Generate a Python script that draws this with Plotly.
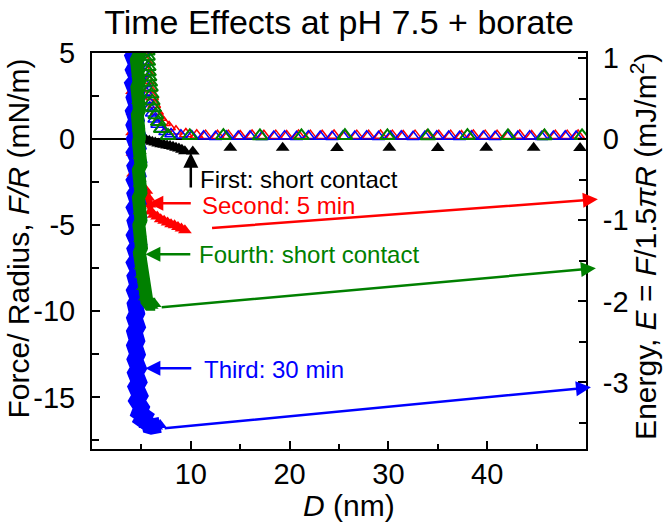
import math
import plotly.graph_objects as go

# ---------------- data (D in nm, F/R in mN/m) ----------------
# First: short contact (black, filled)
black_D = [4.4, 4.6, 4.5, 4.7, 5.0, 5.5, 5.8, 6.1, 6.4, 6.7, 7.0, 7.3, 7.6, 7.9, 8.2, 8.5, 8.8, 9.1, 9.4,
           10.2, 14.0, 19.3, 24.8, 30.1, 35.0, 39.9, 44.7, 49.4]
black_F = [6.5, 4.0, 2.0, 0.8, 0.2, -0.05, -0.1, -0.15, -0.2, -0.25, -0.3, -0.33, -0.37, -0.4, -0.45, -0.5, -0.55,
           -0.62, -0.7, -0.72, -0.5, -0.5, -0.52, -0.5, -0.52, -0.5, -0.5, -0.52]

# Second: 5 min (red) approach (open) and separation (filled)
red_app_D = [5.3, 5.33, 5.36, 5.4, 5.45, 5.52, 5.6, 5.72, 5.88, 6.08, 6.3, 6.58, 6.9, 7.3, 7.8, 8.5, 9.5, 10.6,
             11.5, 12.7, 13.8, 15.0, 16.2, 17.4, 18.6, 19.7, 20.9, 22.1, 23.3, 24.5, 25.6, 26.8, 28.0, 29.2, 30.4,
             31.5, 32.7, 33.9, 35.1, 36.3, 37.4, 38.6, 39.8, 41.0, 42.2, 43.3, 44.5, 45.7, 46.9, 48.1, 49.2]
red_app_F = [7.5, 6.9, 6.3, 5.7, 5.1, 4.5, 3.9, 3.4, 2.9, 2.45, 2.0, 1.6, 1.25, 0.95, 0.7, 0.45, 0.3, 0.22,
             0.2, 0.19, 0.2, 0.18, 0.21, 0.19, 0.2, 0.18, 0.21, 0.2, 0.19, 0.21, 0.18, 0.2, 0.19, 0.21, 0.2,
             0.18, 0.2, 0.21, 0.19, 0.2, 0.18, 0.21, 0.2, 0.19, 0.2, 0.21, 0.18, 0.2, 0.19, 0.2, 0.21]
red_ret_D = [4.0, 4.35, 4.05, 4.4, 4.0, 4.35, 4.1, 4.4, 4.05, 4.35, 4.1, 4.4, 4.05, 4.35, 4.1, 4.4, 4.15, 4.5,
             5.0, 5.5, 5.7, 5.8, 5.95, 6.25, 6.6, 6.95, 7.3, 7.65, 8.0, 8.35, 8.7, 9.05, 9.4]
red_ret_F = [7.6, 7.0, 6.4, 5.8, 5.2, 4.6, 4.0, 3.4, 2.8, 2.2, 1.6, 1.0, 0.4, -0.2, -0.8, -1.4, -2.0, -2.5,
             -2.8, -3.0, -3.4, -3.8, -4.2, -4.4, -4.5, -4.65, -4.75, -4.85, -4.95, -5.0, -5.1, -5.2, -5.3]

# Third: 30 min (blue) approach (open) and separation (filled)
blue_app_D = [5.1, 5.12, 5.15, 5.18, 5.2, 5.24, 5.28, 5.33, 5.4, 5.5, 5.65, 5.85, 6.05, 6.3, 6.6, 6.95, 7.4,
              8.0, 9.0, 10.1, 11.3, 12.5, 13.6, 14.8, 16.0, 17.2, 18.4, 19.5, 20.7, 21.9, 23.1, 24.3, 25.4,
              26.6, 27.8, 29.0, 30.2, 31.3, 32.5, 33.7, 34.9, 36.1, 37.2, 38.4, 39.6, 40.8, 42.0, 43.1, 44.3,
              45.5, 46.7, 47.9, 49.0]
blue_app_F = [8.0, 7.4, 6.8, 6.2, 5.6, 5.0, 4.4, 3.8, 3.2, 2.7, 2.25, 1.85, 1.5, 1.15, 0.85, 0.6, 0.42,
              0.3, 0.22, 0.18, 0.16, 0.14, 0.17, 0.15, 0.16, 0.13, 0.15, 0.17, 0.14, 0.16, 0.15, 0.14, 0.16,
              0.15, 0.17, 0.14, 0.15, 0.16, 0.14, 0.15, 0.17, 0.15, 0.14, 0.16, 0.15, 0.14, 0.16, 0.15, 0.17,
              0.14, 0.15, 0.16, 0.15]
blue_ret_D = [4.15, 4.5, 4.2, 4.55, 4.1, 4.5, 4.25, 4.55, 4.15, 4.5, 4.2, 4.6, 4.15, 4.5, 4.25, 4.55, 4.2,
              4.5, 4.25, 4.6, 4.3,
              4.65, 4.3, 4.7, 4.35, 4.65, 4.3, 4.7, 4.35, 4.65, 4.3, 4.7, 4.35, 4.6, 4.3, 4.7, 4.35, 4.65,
              4.3, 4.7, 4.35, 4.6, 4.3, 4.65, 4.35,
              4.55, 4.3, 4.6, 4.3, 4.55, 4.3, 4.6, 4.35,
              4.7, 4.4, 4.75, 4.45, 4.85, 4.55,
              5.0, 4.8, 5.3, 5.1, 5.6, 5.4, 6.0, 6.5, 6.9]
blue_ret_F = [7.9, 7.6, 7.1, 6.8, 6.3, 6.0, 5.6, 5.1, 4.8, 4.3, 4.0, 3.5, 3.2, 2.7, 2.4, 1.9, 1.6, 1.1, 0.8,
              0.3, 0.0,
              -0.5, -0.8, -1.3, -1.6, -2.1, -2.4, -2.9, -3.2, -3.7, -4.0, -4.5, -4.8, -5.3, -5.6, -6.1, -6.4,
              -6.9, -7.2, -7.7, -8.0, -8.5, -8.8, -9.3, -9.6,
              -10.1, -10.4, -10.9, -11.2, -11.7, -12.0, -12.5, -12.8,
              -13.3, -13.6, -14.1, -14.4, -14.9, -15.2,
              -15.6, -15.9, -16.1, -16.3, -16.5, -16.6, -16.7, -16.7, -16.6]

# Fourth: short contact (green) separation (filled) and approach (open)
green_ret_D = [4.5, 4.7, 4.55, 4.75, 4.5, 4.7, 4.55, 4.75, 4.5, 4.7, 4.6, 4.75, 4.55, 4.7, 4.6, 4.8, 4.6, 4.75,
               4.65, 4.8,
               4.7, 4.9, 4.75, 4.95, 4.7, 4.9, 4.75, 4.95, 4.7, 4.9, 4.75, 4.95, 4.75, 4.9, 4.8, 5.0, 4.8,
               4.95, 4.85,
               4.95, 5.2, 5.1, 5.35, 5.3, 5.55, 5.8, 6.1, 6.4]
green_ret_F = [7.8, 7.3, 7.0, 6.5, 6.2, 5.7, 5.4, 4.9, 4.6, 4.1, 3.8, 3.3, 3.0, 2.5, 2.2, 1.7, 1.4, 0.9, 0.6,
               0.1,
               -0.2, -0.7, -1.0, -1.5, -1.8, -2.3, -2.6, -3.1, -3.4, -3.9, -4.2, -4.7, -5.0, -5.5, -5.8, -6.3,
               -6.6, -7.1, -7.4,
               -7.9, -8.2, -8.6, -8.9, -9.2, -9.4, -9.6, -9.7, -9.6]
green_app_D = [5.45, 5.47, 5.5, 5.5, 5.52, 5.55, 5.55, 5.58, 5.6, 5.62, 5.65, 5.7, 5.72, 5.78, 5.85, 5.92,
               6.0, 6.1, 6.25, 6.45, 6.7, 7.0,
               7.7, 9.9, 13.3, 17.0, 21.2, 25.6, 29.9, 34.0, 38.0, 42.1, 45.8, 49.6]
green_app_F = [7.5, 7.2, 6.9, 6.6, 6.3, 6.0, 5.7, 5.4, 5.1, 4.8, 4.5, 4.2, 3.9, 3.6, 3.3, 3.0, 2.6, 2.2, 1.8,
               1.4, 1.0, 0.6,
               0.2, 0.19, 0.2, 0.18, 0.19, 0.2, 0.19, 0.18, 0.2, 0.19, 0.18, 0.19]

# axis ticks
x_ticks = [10, 20, 30, 40]
x_minor = [5, 15, 25, 35, 45]
yl_ticks = [5, 0, -5, -10, -15]
yl_text = ["5", "0", "-5", "-10", "-15"]
yl_minor = [2.5, -2.5, -7.5, -12.5, -17.5]
yr_ticks = [1, 0, -1, -2, -3]
yr_text = ["1", "0", "-1", "-2", "-3"]
yr_minor = [0.5, -0.5, -1.5, -2.5, -3.5]
F_range = [-18, 5]
D_range = [0, 50]
E_factor = 1.5 * math.pi  # E = F / (1.5 pi R)

# labels: (text, color, text D, text F, arrow tail D, tail F, tip D, tip F)
labels = [
    ("First: short contact", "black", 10.75, -2.35, 10.0, -2.9, 10.0, -0.8),
    ("Second: 5 min", "red", 10.95, -3.85, 10.15, -3.72, 5.7, -3.72),
    ("Fourth: short contact", "green", 10.65, -6.72, 10.1, -6.69, 5.4, -6.69),
    ("Third: 30 min", "blue", 11.15, -13.4, 10.2, -13.31, 5.4, -13.31),
]
# long arrows from the adhesion minima to the energy axis: (color, tail D, tail F, tip D, tip F)
long_arrows = [
    ("red", 12.0, -5.17, 51.2, -3.49),
    ("green", 6.9, -9.77, 51.0, -7.5),
    ("blue", 7.2, -16.8, 50.5, -14.42),
]

FONT = "Liberation Sans, Arial, sans-serif"

fig = go.Figure()


def add(D, F, color, size, open_, lw, line_w=0):
    fig.add_trace(go.Scatter(
        x=D, y=F, mode="lines+markers" if line_w else "markers", showlegend=False, hoverinfo="skip",
        line=dict(color=color, width=line_w) if line_w else None,
        marker=dict(symbol="triangle-up-open" if open_ else "triangle-up", size=size, color=color,
                    line=dict(width=lw, color=color)),
    ))


add(red_app_D, red_app_F, "#ff0000", 11, True, 1.5)
add(red_ret_D, red_ret_F, "#ff0000", 12, False, 0, 6)
add(black_D, black_F, "#000000", 12, False, 0)
add(blue_app_D, blue_app_F, "#0000ff", 11, True, 1.5)
add(blue_ret_D, blue_ret_F, "#0000ff", 12, False, 0, 16)
add(green_ret_D, green_ret_F, "#008000", 11, False, 0, 13)
add(green_app_D, green_app_F, "#008000", 13, True, 2)
# the energy axis (right) shares the force scale: E = F / (1.5 pi R)
fig.add_trace(go.Scatter(x=[D_range[0]], y=[yr_ticks[1]], yaxis="y2", mode="markers", showlegend=False,
                         hoverinfo="skip", marker=dict(opacity=0, size=1)))

anns = []
for text, color, tx, ty, ax, ay, x, y in labels:
    anns.append(dict(x=x, y=y, ax=ax, ay=ay, xref="x", yref="y", axref="x", ayref="y", text="",
                     showarrow=True, arrowhead=2, arrowsize=1.2, arrowwidth=2.5, arrowcolor=color))
    anns.append(dict(x=tx, y=ty, xref="x", yref="y", text=text, showarrow=False, xanchor="left",
                     yanchor="middle", font=dict(size=24, color=color, family=FONT)))
for color, ax, ay, x, y in long_arrows:
    anns.append(dict(x=x, y=y, ax=ax, ay=ay, xref="x", yref="y", axref="x", ayref="y", text="",
                     showarrow=True, arrowhead=2, arrowsize=1.2, arrowwidth=2.5, arrowcolor=color))

# axis titles
anns.append(dict(x=-0.1488, y=0.5328, xref="paper", yref="paper", text="Force/ Radius, <i>F/R</i> (mN/m)",
                 textangle=-90, showarrow=False, xanchor="center", yanchor="middle",
                 font=dict(size=30, family=FONT, color="black")))
anns.append(dict(x=1.1182, y=0.5114, xref="paper", yref="paper",
                 text="Energy, <i>E</i> = <i>F</i>/1.5<i>π</i><i>R</i> (mJ/m<sup>2</sup>)",
                 textangle=-90, showarrow=False, xanchor="center", yanchor="middle",
                 font=dict(size=30, family=FONT, color="black")))
anns.append(dict(x=0.5202, y=-0.1439, xref="paper", yref="paper", text="<i>D</i> (nm)",
                 showarrow=False, xanchor="center", yanchor="middle",
                 font=dict(size=30, family=FONT, color="black")))

axis_common = dict(showgrid=False, linecolor="black", linewidth=2, ticks="inside", ticklen=8, tickwidth=2,
                   tickcolor="black", tickfont=dict(size=29, family=FONT, color="black"))

fig.update_layout(
    width=668, height=527,
    margin=dict(l=92, r=82, t=53, b=78, autoexpand=False),
    paper_bgcolor="white", plot_bgcolor="white",
    font=dict(family=FONT, color="black", size=28),
    showlegend=False,
    title=dict(text="Time Effects at pH 7.5 + borate", x=0.5, xref="paper", xanchor="center",
               y=0.959, yref="container", yanchor="middle", font=dict(size=34, family=FONT, color="black")),
    xaxis=dict(range=D_range, tickmode="array", tickvals=x_ticks, mirror=True, zeroline=False,
               minor=dict(tickmode="array", tickvals=x_minor, ticks="inside", ticklen=5, tickwidth=2,
                          tickcolor="black"),
               ticklabelstandoff=-2, **axis_common),
    yaxis=dict(range=F_range, tickmode="array", tickvals=yl_ticks, ticktext=yl_text, zeroline=True,
               zerolinecolor="black", zerolinewidth=1.5,
               minor=dict(tickmode="array", tickvals=yl_minor, ticks="inside", ticklen=7, tickwidth=2,
                          tickcolor="black"),
               ticklabelstandoff=9, **axis_common),
    yaxis2=dict(range=[F_range[0] / E_factor, F_range[1] / E_factor], overlaying="y", side="right",
                anchor="x", tickmode="array", tickvals=yr_ticks, ticktext=yr_text, zeroline=False,
                showline=True,
                minor=dict(tickmode="array", tickvals=yr_minor, ticks="inside", ticklen=7, tickwidth=2,
                           tickcolor="black"),
                ticklabelstandoff=9, **axis_common),
    annotations=anns,
)

fig.write_html("out.html", config={"displayModeBar": False},
               post_script="document.body.style.margin='0';")
